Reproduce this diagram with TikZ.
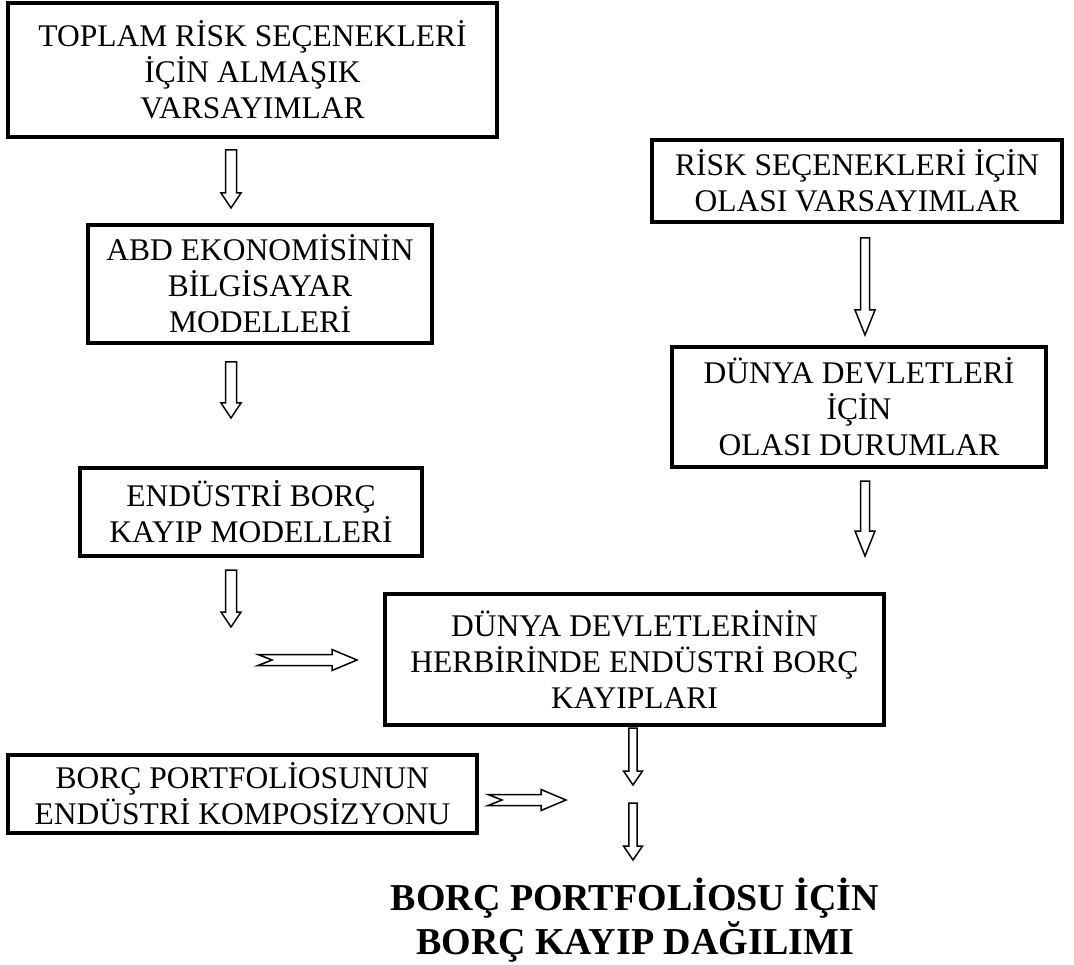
\documentclass[tikz,border=0pt]{standalone}
\usepackage{fontspec}
\setmainfont{Liberation Serif}
\usetikzlibrary{calc}
\newcommand\boxfont{\fontsize{31.5}{36}\selectfont}
\newcommand\titlefont{\bfseries\fontsize{38}{44}\selectfont}
\tikzset{
  flowbox/.style={draw,line width=3.6pt,align=center,inner sep=0pt,font=\boxfont},
  shaftw/.store in=\shaftw, headw/.store in=\headw, headl/.store in=\headl, notch/.store in=\notchd,
  shaftw=5.5pt, headw=10pt, headl=15pt, notch=14pt,
  blockdown/.style={draw,line width=1.5pt,to path={let \p1=(\tikztostart), \p2=(\tikztotarget) in
    (\x1-\shaftw,\y1) -- (\x1-\shaftw,\y2+\headl) -- (\x1-\headw,\y2+\headl) -- (\x2,\y2)
    -- (\x1+\headw,\y2+\headl) -- (\x1+\shaftw,\y2+\headl) -- (\x1+\shaftw,\y1) -- cycle}},
  blockright/.style={draw,line width=1.5pt,to path={let \p1=(\tikztostart), \p2=(\tikztotarget) in
    (\x1,\y1+\shaftw) -- (\x2-\headl,\y1+\shaftw) -- (\x2-\headl,\y1+\headw) -- (\x2,\y2)
    -- (\x2-\headl,\y1-\headw) -- (\x2-\headl,\y1-\shaftw) -- (\x1,\y1-\shaftw) -- (\x1+\notchd,\y1) -- cycle}}
}
\begin{document}
\begin{tikzpicture}[x=1pt,y=-1pt]
  \useasboundingbox (0,0) rectangle (1074,965);
  % left column
  \node[flowbox,minimum width=489,minimum height=134] (total) at (252.5,70) {TOPLAM RİSK SEÇENEKLERİ\\İÇİN ALMAŞIK\\VARSAYIMLAR};
  \node[flowbox,minimum width=344,minimum height=118] (usmodel) at (260,284) {ABD EKONOMİSİNİN\\BİLGİSAYAR\\MODELLERİ};
  \node[flowbox,minimum width=342,minimum height=88] (lossmodel) at (251,512) {ENDÜSTRİ BORÇ\\KAYIP MODELLERİ};
  % right column
  \node[flowbox,minimum width=410,minimum height=82] (riskopt) at (857,181) {RİSK SEÇENEKLERİ İÇİN\\OLASI VARSAYIMLAR};
  \node[flowbox,minimum width=374,minimum height=120] (states) at (859,407) {DÜNYA DEVLETLERİ\\İÇİN\\OLASI DURUMLAR};
  % bottom part
  \node[flowbox,minimum width=499,minimum height=131] (losses) at (634.5,659.5) {DÜNYA DEVLETLERİNİN\\HERBİRİNDE ENDÜSTRİ BORÇ\\KAYIPLARI};
  \node[flowbox,minimum width=469,minimum height=78] (portfolio) at (242.5,794) {BORÇ PORTFOLİOSUNUN\\ENDÜSTRİ KOMPOSİZYONU};
  \node[font=\titlefont,align=center,inner sep=0pt] (result) at (635,920) {BORÇ PORTFOLİOSU İÇİN\\BORÇ KAYIP DAĞILIMI};

  % arrow ends
  \coordinate (a1s) at (231,150); \coordinate (a1e) at (231,208);
  \coordinate (a2s) at (231,362); \coordinate (a2e) at (231,418);
  \coordinate (a3s) at (231,570); \coordinate (a3e) at (231,627);
  \coordinate (n1s) at (258,660); \coordinate (n1e) at (357,660);
  \coordinate (a5s) at (865,238); \coordinate (a5e) at (865,335);
  \coordinate (a6s) at (865,481); \coordinate (a6e) at (865,556);
  \coordinate (a7s) at (633,728); \coordinate (a7e) at (633,785);
  \coordinate (a8s) at (633,803); \coordinate (a8e) at (633,860);
  \coordinate (n2s) at (488,800); \coordinate (n2e) at (566,800);

  \draw[blockdown] (a1s) to (a1e);
  \draw[blockdown] (a2s) to (a2e);
  \draw[blockdown] (a3s) to (a3e);
  \draw[blockright,headl=25pt,headw=10.5pt] (n1s) to (n1e);
  \draw[blockdown,shaftw=4.5pt,headl=25pt] (a5s) to (a5e);
  \draw[blockdown,shaftw=4.5pt,headl=25pt] (a6s) to (a6e);
  \draw[blockdown,shaftw=4.2pt,headw=9.5pt,headl=14pt] (a7s) to (a7e);
  \draw[blockdown,shaftw=4.2pt,headw=9.5pt,headl=14pt] (a8s) to (a8e);
  \draw[blockright,headl=25pt,headw=10.5pt] (n2s) to (n2e);
\end{tikzpicture}
\end{document}
